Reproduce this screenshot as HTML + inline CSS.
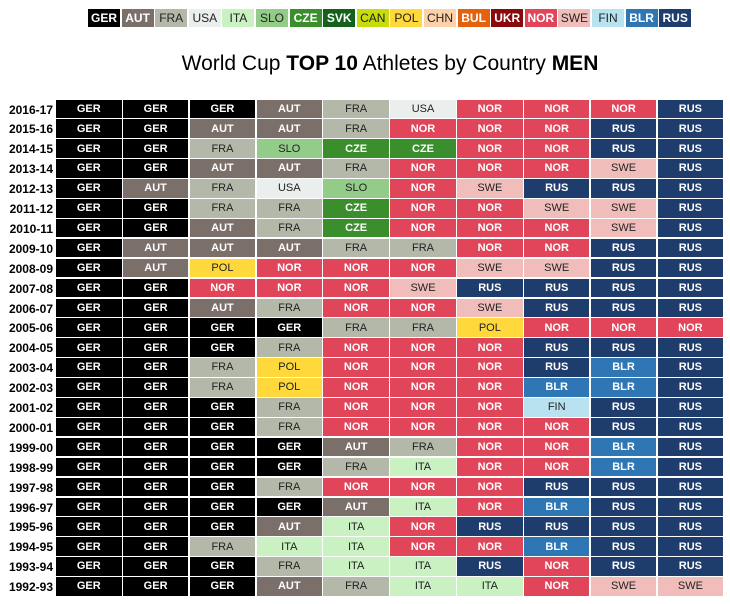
<!DOCTYPE html>
<html><head><meta charset="utf-8"><style>
body{margin:0;width:730px;height:604px;background:#fff;font-family:"Liberation Sans",sans-serif;position:relative;overflow:hidden}
.lg,.c{position:absolute;display:flex;align-items:center;justify-content:center;box-sizing:border-box}
.lg{font-size:12px;height:18px;top:9px}
.c{font-size:11px}
.y{position:absolute;left:0;width:53px;text-align:right;font-size:12px;font-weight:bold}
#title{position:absolute;top:52px;left:0;width:780px;text-align:center;font-size:21px}
</style></head><body>
<div id="title">World Cup <b>TOP 10</b> Athletes by Country <b>MEN</b></div>
<div id="root"></div>
<script>
const countries=["GER","AUT","FRA","USA","ITA","SLO","CZE","SVK","CAN","POL","CHN","BUL","UKR","NOR","SWE","FIN","BLR","RUS"];
const colors=["#000","#7b6f6a","#b4b8a9","#eaeeec","#c9f1c1","#93cb88","#3b8e2c","#15601a","#c6dc0c","#ffd93c","#fdd1aa","#e4620e","#880a0c","#e14559","#f1bdbb","#b9e2f1","#2f77b4","#1e3d6d"];
const darkText=["AUT","GER","CZE","SVK","BUL","UKR","NOR","BLR","RUS"];
const seasons=["2016-17","2015-16","2014-15","2013-14","2012-13","2011-12","2010-11","2009-10","2008-09","2007-08","2006-07","2005-06","2004-05","2003-04","2002-03","2001-02","2000-01","1999-00","1998-99","1997-98","1996-97","1995-96","1994-95","1993-94","1992-93"];
const ranks=[
"GER GER GER AUT FRA USA NOR NOR NOR RUS",
"GER GER AUT AUT FRA NOR NOR NOR RUS RUS",
"GER GER FRA SLO CZE CZE NOR NOR RUS RUS",
"GER GER AUT AUT FRA NOR NOR NOR SWE RUS",
"GER AUT FRA USA SLO NOR SWE RUS RUS RUS",
"GER GER FRA FRA CZE NOR NOR SWE SWE RUS",
"GER GER AUT FRA CZE NOR NOR NOR SWE RUS",
"GER AUT AUT AUT FRA FRA NOR NOR RUS RUS",
"GER AUT POL NOR NOR NOR SWE SWE RUS RUS",
"GER GER NOR NOR NOR SWE RUS RUS RUS RUS",
"GER GER AUT FRA NOR NOR SWE RUS RUS RUS",
"GER GER GER GER FRA FRA POL NOR NOR NOR",
"GER GER GER FRA NOR NOR NOR RUS RUS RUS",
"GER GER FRA POL NOR NOR NOR RUS BLR RUS",
"GER GER FRA POL NOR NOR NOR BLR BLR RUS",
"GER GER GER FRA NOR NOR NOR FIN RUS RUS",
"GER GER GER FRA NOR NOR NOR NOR RUS RUS",
"GER GER GER GER AUT FRA NOR NOR BLR RUS",
"GER GER GER GER FRA ITA NOR NOR BLR RUS",
"GER GER GER FRA NOR NOR NOR RUS RUS RUS",
"GER GER GER GER AUT ITA NOR BLR RUS RUS",
"GER GER GER AUT ITA NOR RUS RUS RUS RUS",
"GER GER FRA ITA ITA NOR NOR BLR RUS RUS",
"GER GER GER FRA ITA ITA RUS NOR RUS RUS",
"GER GER GER AUT FRA ITA ITA NOR SWE SWE"];
const root=document.getElementById('root');
const lx=i=>88+i*33.6, cx=j=>56+j*66.85, ry=i=>99.5+i*19.9;
countries.forEach((c,i)=>{
 const d=document.createElement('div');d.className='lg';d.textContent=c;
 
 
 const dk=darkText.includes(c);
 d.style.left=lx(i)+'px';d.style.width='32px';d.style.background=colors[i];
 d.style.color=dk?'#fff':'#222';d.style.fontWeight=dk?'bold':'normal';root.appendChild(d);
});
seasons.forEach((s,i)=>{
 const y=document.createElement('div');y.className='y';y.textContent=s;
 
 
 y.style.top=(ry(i)+3)+'px';root.appendChild(y);
 ranks[i].split(' ').forEach((c,j)=>{
  const d=document.createElement('div');d.className='c';d.textContent=c;
  
  
  const k=countries.indexOf(c);
  const dk=darkText.includes(c);
  d.style.left=cx(j)+'px';d.style.top=ry(i)+'px';d.style.width='65.5px';d.style.height='18.6px';
  d.style.background=colors[k];d.style.color=dk?'#fff':'#222';d.style.fontWeight=dk?'bold':'normal';
  root.appendChild(d);
 });
});
</script>
</body></html>
